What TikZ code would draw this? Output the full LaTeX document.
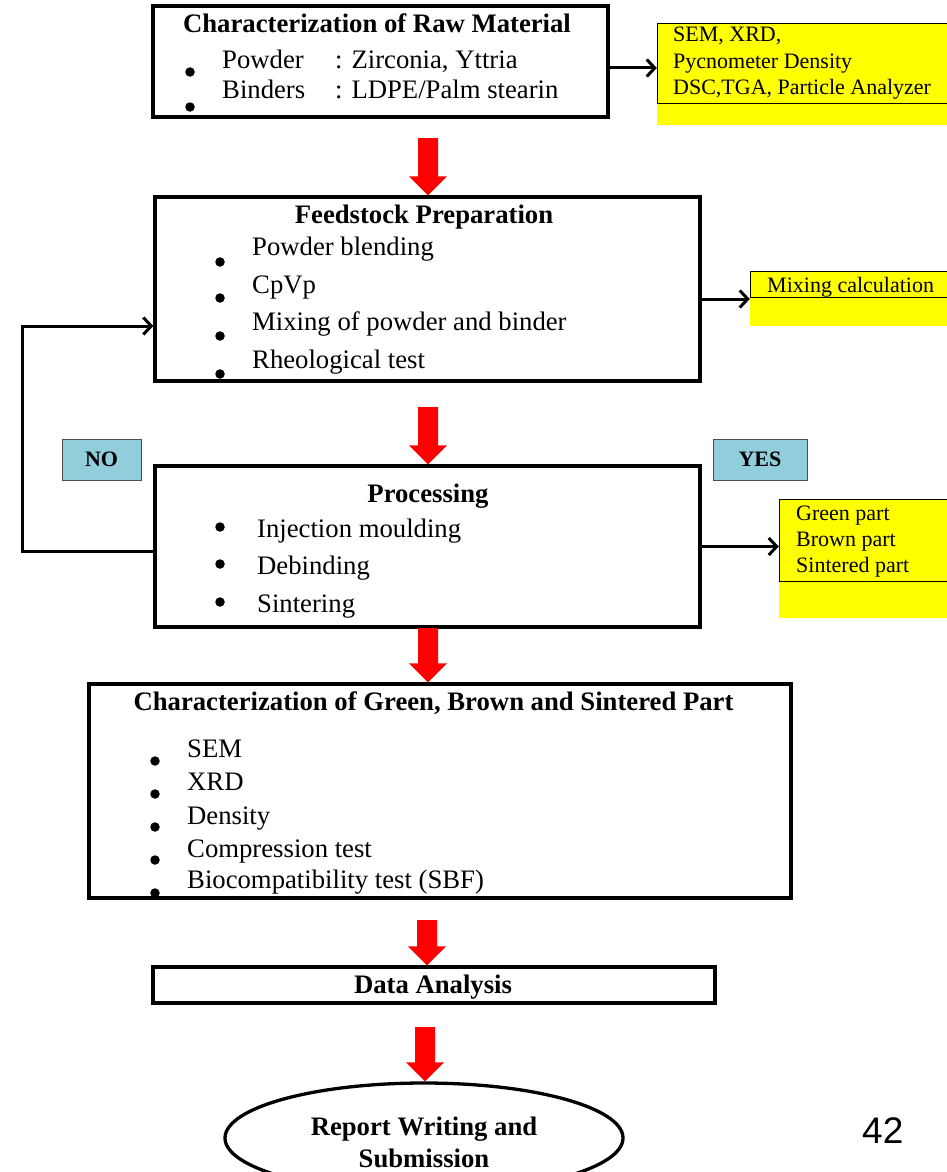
\documentclass[tikz,border=0pt]{standalone}
\usepackage{fontspec}
\setmainfont{Liberation Serif}
\newfontfamily\numfont{Liberation Sans}
\usetikzlibrary{arrows.meta,shapes.geometric,calc}

\definecolor{notecol}{HTML}{FFFF00}
\definecolor{tagcol}{HTML}{92CDDC}
\definecolor{flowred}{HTML}{FF0000}

% thick red block arrow from a start coordinate down to a target point
\newcommand\redarrow[2]{%
  \path[fill=flowred] let \p1=(#1), \p2=(#2) in
    (\x1-10pt,\y1) -- (\x1+10pt,\y1) -- (\x1+10pt,\y2+19pt)
    -- (\x1+19pt,\y2+19pt) -- (\x1,\y2) -- (\x1-19pt,\y2+19pt)
    -- (\x1-10pt,\y2+19pt) -- cycle;}

\begin{document}
\begin{tikzpicture}[x=1pt,y=-1pt,
  box/.style={draw=black,line width=3.3pt,rectangle,inner sep=0pt},
  note/.style={draw=black,line width=0.9pt,rectangle,inner sep=0pt,fill=notecol},
  notefill/.style={rectangle,inner sep=0pt,fill=notecol},
  tag/.style={draw=black!70,line width=0.9pt,rectangle,inner sep=0pt,fill=tagcol,
    font=\bfseries\fontsize{22pt}{26pt}\selectfont},
  ttl/.style={inner sep=0pt,anchor=base,font=\bfseries\fontsize{26.7pt}{32pt}\selectfont},
  txt/.style={inner sep=0pt,anchor=base west,font=\fontsize{26.7pt}{32pt}\selectfont},
  ntxt/.style={inner sep=0pt,anchor=base west,font=\fontsize{22pt}{26pt}\selectfont},
  dot/.style={circle,fill=black,inner sep=0pt,minimum size=9.5pt},
  conn/.style={draw=black,line width=3pt,-{Straight Barb[length=8pt,width=17pt]}},
]
\useasboundingbox (0,0) rectangle (947,1172);

% ---------- side notes (yellow) ----------
\node[notefill,minimum width=290pt,minimum height=102pt] (y1f) at (802,74) {};
\node[note,minimum width=290pt,minimum height=80pt] (y1) at (802,63) {};
\node[ntxt] (y1a) at (673,42) {SEM, XRD,};
\node[ntxt] (y1b) at (673,68) {Pycnometer Density};
\node[ntxt] (y1c) at (673,94) {DSC,TGA, Particle Analyzer};

\node[notefill,minimum width=197pt,minimum height=55pt] (y2f) at (848.5,298.5) {};
\node[note,minimum width=197pt,minimum height=26pt] (y2) at (848.5,284) {};
\node[ntxt] (y2a) at (767,292) {Mixing calculation};

\node[notefill,minimum width=168pt,minimum height=119pt] (y3f) at (863,558.5) {};
\node[note,minimum width=168pt,minimum height=82pt] (y3) at (863,540) {};
\node[ntxt] (y3a) at (796,520) {Green part};
\node[ntxt] (y3b) at (796,546) {Brown part};
\node[ntxt] (y3c) at (796,572) {Sintered part};

% ---------- decision tags ----------
\node[tag,minimum width=79pt,minimum height=41pt] (no) at (101.5,459.5) {NO};
\node[tag,minimum width=94pt,minimum height=41pt] (yes) at (760,459.5) {YES};

% ---------- main process boxes ----------
\node[box,minimum width=455pt,minimum height=111pt] (b1) at (380.5,61.5) {};
\node[ttl] (b1t) at (377,33) {Characterization of Raw Material};
\node[txt] (b1a) at (222,68) {Powder};
\node[txt] (b1a2) at (335,68) {: Zirconia, Yttria};
\node[txt] (b1b) at (222,99) {Binders};
\node[txt] (b1b2) at (335,99) {: LDPE/Palm stearin};
\node[dot] (b1d1) at (190,72) {};
\node[dot] (b1d2) at (190,107) {};

\node[box,minimum width=545pt,minimum height=184pt] (b2) at (427.5,289) {};
\node[ttl] (b2t) at (424,223) {Feedstock Preparation};
\node[txt] (b2a) at (252,255) {Powder blending};
\node[txt] (b2b) at (252,293) {CpVp};
\node[txt] (b2c) at (252,330) {Mixing of powder and binder};
\node[txt] (b2d) at (252,368) {Rheological test};
\node[dot] (b2d1) at (220,262) {};
\node[dot] (b2d2) at (220,298) {};
\node[dot] (b2d3) at (220,336) {};
\node[dot] (b2d4) at (220,374) {};

\node[box,minimum width=545pt,minimum height=161pt] (b3) at (427.5,546.5) {};
\node[ttl] (b3t) at (428,502) {Processing};
\node[txt] (b3a) at (257,537) {Injection moulding};
\node[txt] (b3b) at (257,574) {Debinding};
\node[txt] (b3c) at (257,612) {Sintering};
\node[dot] (b3d1) at (220,527) {};
\node[dot] (b3d2) at (220,564) {};
\node[dot] (b3d3) at (220,602) {};

\node[box,minimum width=702pt,minimum height=214pt] (b4) at (440,791) {};
\node[ttl] (b4t) at (433.5,710) {Characterization of Green, Brown and Sintered Part};
\node[txt] (b4a) at (187,757) {SEM};
\node[txt] (b4b) at (187,790) {XRD};
\node[txt] (b4c) at (187,824) {Density};
\node[txt] (b4d) at (187,857) {Compression test};
\node[txt] (b4e) at (187,888) {Biocompatibility test (SBF)};
\node[dot] (b4d1) at (155,761) {};
\node[dot] (b4d2) at (155,794) {};
\node[dot] (b4d3) at (155,827) {};
\node[dot] (b4d4) at (155,860) {};
\node[dot] (b4d5) at (155,893) {};

\node[box,minimum width=562pt,minimum height=36pt] (b5) at (434,985) {};
\node[ttl] (b5t) at (433,993) {Data Analysis};

\node[box,ellipse,minimum width=398pt,minimum height=110pt] (e) at (424,1138) {};
\node[ttl] (et1) at (424,1135) {Report Writing and};
\node[ttl] (et2) at (424,1167) {Submission};

\node[inner sep=0pt,anchor=base west,font=\numfont\fontsize{37pt}{40pt}\selectfont] (pg) at (862,1143) {42};

% ---------- red flow arrows ----------
\coordinate (r1) at (428,138);
\coordinate (r2) at (428,407);
\coordinate (r3) at (428,628);
\coordinate (r4) at (427,920);
\coordinate (r5) at (425,1027);
\redarrow{r1}{r1 |- b2.north}
\redarrow{r2}{r2 |- b3.north}
\redarrow{r3}{r3 |- b4.north}
\redarrow{r4}{r4 |- b5.north}
\redarrow{r5}{r5 |- e.north}

% ---------- side connectors ----------
\coordinate (c1) at ($(b1.east)+(0,6.5)$);
\coordinate (c2) at ($(b2.east)+(0,10)$);
\draw[conn] (c1) -- (c1 -| y1f.west);
\draw[conn] (c2) -- (c2 -| y2f.west);
\draw[conn] (b3.east) -- (b3.east -| y3f.west);

% ---------- feedback loop ----------
\coordinate (fb) at (22,326);
\coordinate (c3) at ($(b3.west)+(0,4.5)$);
\coordinate (c4) at ($(b2.west)+(0,37)$);
\draw[conn] (c3) -| (fb) |- (c4);
\end{tikzpicture}
\end{document}
